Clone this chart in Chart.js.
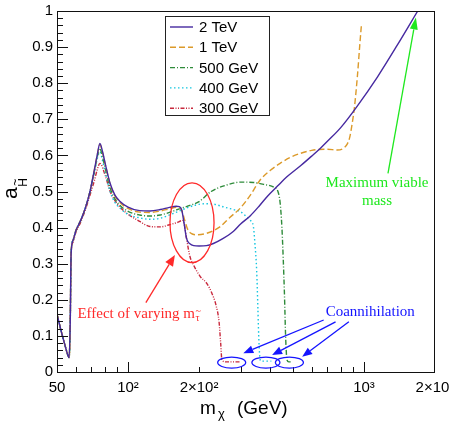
<!DOCTYPE html>
<html>
<head>
<meta charset="utf-8">
<script src="https://cdn.jsdelivr.net/npm/chart.js@4.4.1/dist/chart.umd.min.js"></script>
<style>
  html, body { margin: 0; padding: 0; background: #fff; }
  canvas { display: block; }
</style>
</head>
<body>
<canvas id="myChart" width="449" height="421"></canvas>
<script>
// m_chi in GeV, a_H for each stau mass
const m2TeV = [50, 52, 54, 55.5, 56.3, 56.9, 57.4, 58.5, 60, 63, 66, 69, 72, 74, 76, 78, 80, 84, 88, 92, 100, 112, 124, 137, 150, 160, 165, 169, 173, 177, 183, 190, 200, 215, 230, 250, 280, 300, 330, 360, 390, 430, 470, 540, 600, 654, 700, 797, 935, 1140, 1386, 1690];
const a2TeV = [0.16, 0.115, 0.075, 0.048, 0.04, 0.14, 0.33, 0.365, 0.39, 0.42, 0.455, 0.5, 0.56, 0.6, 0.633, 0.61, 0.578, 0.522, 0.49, 0.474, 0.457, 0.447, 0.446, 0.45, 0.456, 0.459, 0.458, 0.448, 0.41, 0.37, 0.355, 0.35, 0.349, 0.35, 0.356, 0.368, 0.39, 0.41, 0.433, 0.46, 0.487, 0.515, 0.54, 0.572, 0.598, 0.62, 0.639, 0.677, 0.736, 0.817, 0.906, 1.0];

const m1TeV = [50, 52, 54, 55.5, 56.3, 56.9, 57.4, 58.5, 60, 63, 66, 69, 72, 74, 76, 78, 80, 84, 88, 92, 100, 112, 124, 137, 150, 160, 165, 169, 174, 179, 185, 195, 215, 245, 270, 300, 330, 363, 400, 441, 490, 540, 600, 700, 770, 820, 850, 870, 887, 910, 938, 961, 975];
const a1TeV = [0.16, 0.115, 0.075, 0.048, 0.04, 0.14, 0.33, 0.365, 0.39, 0.42, 0.455, 0.5, 0.56, 0.6, 0.63, 0.607, 0.576, 0.52, 0.488, 0.471, 0.453, 0.443, 0.442, 0.446, 0.452, 0.456, 0.455, 0.447, 0.42, 0.395, 0.384, 0.38, 0.384, 0.402, 0.428, 0.455, 0.49, 0.532, 0.558, 0.578, 0.595, 0.606, 0.614, 0.617, 0.615, 0.62, 0.632, 0.65, 0.68, 0.73, 0.82, 0.91, 0.96];

const m500 = [50, 52, 54, 55.5, 56.3, 56.9, 57.4, 58.5, 60, 63, 66, 69, 72, 74, 76, 78, 80, 84, 88, 92, 100, 112, 124, 137, 150, 165, 180, 200, 225, 262, 300, 340, 380, 415, 432, 441, 449, 455, 460, 466, 472, 480, 495];
const a500 = [0.16, 0.115, 0.075, 0.048, 0.04, 0.14, 0.33, 0.365, 0.39, 0.42, 0.455, 0.5, 0.555, 0.595, 0.62, 0.595, 0.565, 0.51, 0.48, 0.463, 0.445, 0.435, 0.432, 0.435, 0.442, 0.452, 0.46, 0.472, 0.5, 0.518, 0.526, 0.525, 0.519, 0.512, 0.5, 0.47, 0.4, 0.31, 0.22, 0.09, 0.033, 0.028, 0.028];

const m400 = [50, 52, 54, 55.5, 56.3, 56.9, 57.4, 58.5, 60, 63, 66, 69, 72, 74, 76, 78, 80, 84, 88, 92, 100, 112, 124, 137, 150, 165, 180, 195, 210, 230, 255, 280, 300, 318, 329, 340, 345, 351, 355, 358, 362, 366, 385, 405];
const a400 = [0.16, 0.115, 0.075, 0.048, 0.04, 0.14, 0.33, 0.365, 0.39, 0.42, 0.455, 0.5, 0.553, 0.59, 0.61, 0.585, 0.553, 0.5, 0.47, 0.455, 0.437, 0.427, 0.423, 0.426, 0.435, 0.446, 0.456, 0.463, 0.466, 0.465, 0.457, 0.45, 0.444, 0.43, 0.421, 0.402, 0.356, 0.28, 0.18, 0.1, 0.04, 0.03, 0.03, 0.03];

const m300 = [50, 52, 54, 55.5, 56.3, 56.9, 57.4, 58.5, 60, 63, 66, 69, 72, 74, 76, 80, 84, 88, 92, 100, 107, 112, 124, 137, 150, 163, 170, 173, 177, 183, 190, 202, 216, 226, 236, 243, 247, 250, 260, 280, 300];
const a300 = [0.16, 0.115, 0.075, 0.048, 0.04, 0.14, 0.33, 0.36, 0.385, 0.415, 0.45, 0.49, 0.53, 0.56, 0.578, 0.545, 0.5, 0.475, 0.458, 0.437, 0.425, 0.417, 0.403, 0.402, 0.408, 0.415, 0.42, 0.41, 0.37, 0.32, 0.295, 0.265, 0.245, 0.22, 0.185, 0.14, 0.08, 0.033, 0.028, 0.028, 0.028];

const seriesLabels = ['2 TeV', '1 TeV', '500 GeV', '400 GeV', '300 GeV'];
const xTickValues = [50, 100, 200, 1000, 2000];
const xTickLabels = ['50', '10\u00B2', '2\u00D710\u00B2', '10\u00B3', '2\u00D710\u00B3'];
const xMinorTicks = [60, 70, 80, 90, 200, 300, 400, 500, 600, 700, 800, 900];
const xMajorTicks = [100, 1000];

const toPoints = (ms, as) => ms.map((m, i) => ({ x: m, y: as[i] }));

const styles = [
    { color: '#4629a0', dash: [] },
    { color: '#dc9a2a', dash: [6, 3] },
    { color: '#2e8b3a', dash: [5, 2, 1, 2] },
    { color: '#14c6e0', dash: [1.5, 2.5] },
    { color: '#c8283c', dash: [4, 1.5, 1, 1.5, 1, 1.5] }
];
const seriesData = [
    toPoints(m2TeV, a2TeV),
    toPoints(m1TeV, a1TeV),
    toPoints(m500, a500),
    toPoints(m400, a400),
    toPoints(m300, a300)
];

const SANS = '"Liberation Sans", Arial, Helvetica, sans-serif';
const SERIF = '"Liberation Serif", "Times New Roman", serif';

function arrow(ctx, x1, y1, x2, y2, color, head, half) {
    const ang = Math.atan2(y2 - y1, x2 - x1);
    const bx = x2 - head * Math.cos(ang), by = y2 - head * Math.sin(ang);
    ctx.strokeStyle = color;
    ctx.fillStyle = color;
    ctx.lineWidth = 1.3;
    ctx.setLineDash([]);
    ctx.beginPath();
    ctx.moveTo(x1, y1);
    ctx.lineTo(bx, by);
    ctx.stroke();
    ctx.beginPath();
    ctx.moveTo(x2, y2);
    ctx.lineTo(bx + half * Math.sin(ang), by - half * Math.cos(ang));
    ctx.lineTo(bx - half * Math.sin(ang), by + half * Math.cos(ang));
    ctx.closePath();
    ctx.fill();
}

// frame, inward ticks, legend, annotations and axis titles
const decor = {
    id: 'decor',
    afterDraw(chart) {
        const ctx = chart.ctx;
        const a = chart.chartArea;
        const xs = chart.scales.x, ys = chart.scales.y;
        const px = v => xs.getPixelForValue(v);
        const py = v => ys.getPixelForValue(v);
        ctx.save();

        // frame
        ctx.strokeStyle = '#111';
        ctx.lineWidth = 1;
        ctx.setLineDash([]);
        ctx.strokeRect(a.left + 0.5, a.top + 0.5, a.right - a.left - 1, a.bottom - a.top);

        // y ticks
        ctx.beginPath();
        for (let i = 0; i <= 50; i++) {
            const y = Math.round(py(i / 50)) + 0.5;
            const len = i % 5 === 0 ? 11 : 6;
            ctx.moveTo(a.left, y);
            ctx.lineTo(a.left + len, y);
        }
        // x ticks
        xMinorTicks.forEach(v => {
            const x = Math.round(px(v)) + 0.5;
            ctx.moveTo(x, a.bottom);
            ctx.lineTo(x, a.bottom - 5);
        });
        xMajorTicks.forEach(v => {
            const x = Math.round(px(v)) + 0.5;
            ctx.moveTo(x, a.bottom);
            ctx.lineTo(x, a.bottom - 10);
        });
        ctx.stroke();

        // legend
        const lx = a.left + 108, ly = a.top + 5, lw = 104, lh = 99;
        ctx.fillStyle = '#fff';
        ctx.fillRect(lx, ly, lw, lh);
        ctx.strokeStyle = '#222';
        ctx.lineWidth = 1;
        ctx.strokeRect(lx + 0.5, ly + 0.5, lw, lh);
        ctx.font = '15px ' + SANS;
        ctx.textBaseline = 'middle';
        ctx.textAlign = 'left';
        chart.data.datasets.forEach((ds, i) => {
            const yy = ly + 11 + i * 20.3;
            ctx.strokeStyle = ds.borderColor;
            ctx.lineWidth = ds.borderWidth;
            ctx.setLineDash(ds.borderDash);
            ctx.beginPath();
            ctx.moveTo(lx + 5, yy);
            ctx.lineTo(lx + 28, yy);
            ctx.stroke();
            ctx.setLineDash([]);
            ctx.fillStyle = '#000';
            ctx.fillText(ds.label, lx + 34, yy + 1);
        });

        // red: effect of varying stau mass
        const red = '#ff2a2a';
        ctx.strokeStyle = red;
        ctx.lineWidth = 1.3;
        const ex1 = px(150.6), ex2 = px(231.5), ey1 = py(0.524), ey2 = py(0.303);
        ctx.beginPath();
        ctx.ellipse((ex1 + ex2) / 2, (ey1 + ey2) / 2, (ex2 - ex1) / 2, (ey2 - ey1) / 2, 0, 0, Math.PI * 2);
        ctx.stroke();
        arrow(ctx, px(119), py(0.192), px(158), py(0.324), red, 11, 4.5);
        ctx.fillStyle = red;
        ctx.font = '15px ' + SERIF;
        ctx.textBaseline = 'alphabetic';
        const tx = px(61), tyb = py(0.163) + 5;
        const txt = 'Effect of varying m';
        ctx.fillText(txt, tx, tyb);
        const tw = ctx.measureText(txt).width;
        ctx.font = '10px ' + SERIF;
        ctx.fillText('\u03C4', tx + tw + 0.5, tyb + 3);
        ctx.fillText('~', tx + tw + 0.5, tyb - 4);

        // green: maximum viable mass
        const green = '#1ee81e';
        arrow(ctx, px(1264), py(0.55), px(1660), py(0.982), green, 12, 4);
        ctx.fillStyle = green;
        ctx.font = '15px ' + SERIF;
        ctx.textAlign = 'center';
        ctx.fillText('Maximum viable', px(1136), py(0.527) + 5);
        ctx.fillText('mass', px(1136), py(0.476) + 5);

        // blue: coannihilation
        const blue = '#1414ff';
        ctx.textAlign = 'left';
        ctx.fillStyle = blue;
        ctx.fillText('Coannihilation', px(688), py(0.169) + 5);
        arrow(ctx, px(675), py(0.144), px(308), py(0.052), blue, 10, 4);
        arrow(ctx, px(758), py(0.139), px(408), py(0.047), blue, 10, 4);
        arrow(ctx, px(863), py(0.139), px(547), py(0.042), blue, 10, 4);
        ctx.strokeStyle = blue;
        ctx.lineWidth = 1.3;
        [275, 384, 483].forEach(m => {
            ctx.beginPath();
            ctx.ellipse(px(m), py(0.026), 14, 5.5, 0, 0, Math.PI * 2);
            ctx.stroke();
        });

        // x title: m_chi (GeV)
        ctx.fillStyle = '#000';
        ctx.font = '19px ' + SANS;
        ctx.fillText('m', 200, 414);
        ctx.font = '13px ' + SANS;
        ctx.fillText('\u03C7', 218, 418);
        ctx.font = '19px ' + SANS;
        ctx.fillText('(GeV)', 237, 414);

        // y title: a_H~
        ctx.translate(17, 199);
        ctx.rotate(-Math.PI / 2);
        ctx.font = '21px ' + SANS;
        ctx.fillText('a', 0, 0);
        const aw = ctx.measureText('a').width;
        ctx.font = '12px ' + SANS;
        ctx.fillText('H', aw + 0.5, 10);
        ctx.fillText('~', aw + 1.5, 2);

        ctx.restore();
    }
};

const chart = new Chart(document.getElementById('myChart').getContext('2d'), {
    type: 'line',
    data: {
        datasets: seriesData.map((d, i) => ({
            label: seriesLabels[i],
            data: d,
            borderColor: styles[i].color,
            borderDash: styles[i].dash,
            borderWidth: 1.4,
            pointRadius: 0,
            fill: false,
            cubicInterpolationMode: 'monotone'
        }))
    },
    options: {
        responsive: false,
        animation: false,
        layout: { padding: { top: 11, right: 14, left: 0, bottom: 0 } },
        plugins: { legend: { display: false }, tooltip: { enabled: false } },
        scales: {
            x: {
                type: 'logarithmic',
                min: 50,
                max: 2000,
                grid: { display: false, drawTicks: false },
                border: { display: false },
                afterBuildTicks: s => { s.ticks = xTickValues.map(v => ({ value: v })); },
                // fixed height, and let the last label run past the edge like the original
                afterFit: s => { s.height = 49; s.paddingLeft = 0; s.paddingRight = 0; },
                ticks: {
                    autoSkip: false,
                    maxRotation: 0,
                    padding: 7,
                    color: '#000',
                    font: { family: SANS, size: 15 },
                    callback: v => xTickLabels[xTickValues.indexOf(v)]
                }
            },
            y: {
                min: 0,
                max: 1,
                grid: { display: false, drawTicks: false },
                border: { display: false },
                afterFit: s => { s.width = 57; s.paddingTop = 0; s.paddingBottom = 0; },
                ticks: {
                    stepSize: 0.1,
                    padding: 4,
                    color: '#000',
                    font: { family: SANS, size: 15 },
                    callback: v => String(+v.toFixed(1))
                }
            }
        }
    },
    plugins: [decor]
});
</script>
</body>
</html>
